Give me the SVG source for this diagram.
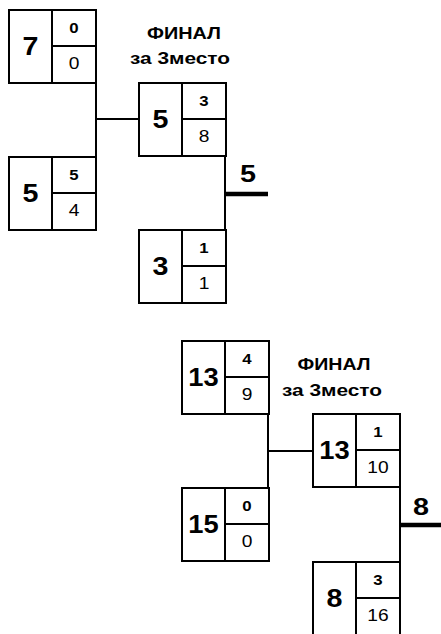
<svg xmlns="http://www.w3.org/2000/svg" width="441" height="634" viewBox="0 0 441 634">
<style>
.b{fill:#fff;stroke:#000;stroke-width:2}
.l{stroke:#000;stroke-width:2;fill:none}
.t{stroke:#000;stroke-width:4.5;fill:none}
text{font-family:"Liberation Sans",Arial,sans-serif;fill:#000;text-anchor:middle}
.big{font-size:26px;font-weight:bold}
.sb{font-size:14px;font-weight:bold}
.sn{font-size:16px}
.h{font-size:17px;font-weight:bold}
.w{font-size:24px;font-weight:bold}
</style>
<defs>
<g id="box">
<rect class="b" x="0" y="0" width="87" height="73"/>
<line class="l" x1="43" y1="0" x2="43" y2="73"/>
<line class="l" x1="43" y1="36" x2="87" y2="36"/>
</g>
<g id="boxtall">
<rect class="b" x="0" y="0" width="87" height="90"/>
<line class="l" x1="43" y1="0" x2="43" y2="90"/>
<line class="l" x1="43" y1="36" x2="87" y2="36"/>
</g>
</defs>
<g id="connectors">
<line class="l" x1="96" y1="10" x2="96" y2="230"/>
<line class="l" x1="96" y1="119" x2="139" y2="119"/>
<line class="l" x1="225" y1="83" x2="225" y2="304"/>
<line class="t" x1="225" y1="194" x2="268" y2="194"/>
<line class="l" x1="268" y1="341" x2="268" y2="562"/>
<line class="l" x1="268" y1="451" x2="313" y2="451"/>
<line class="l" x1="400" y1="414" x2="400" y2="634"/>
<line class="t" x1="400" y1="525" x2="441" y2="525"/>
</g>
<g id="title1">
<text class="h" x="184" y="39" textLength="74" lengthAdjust="spacingAndGlyphs">ФИНАЛ</text>
<text class="h" x="180" y="64" textLength="100" lengthAdjust="spacingAndGlyphs">за 3место</text>
</g>
<g id="title2">
<text class="h" x="334" y="370" textLength="73" lengthAdjust="spacingAndGlyphs">ФИНАЛ</text>
<text class="h" x="332" y="396" textLength="100" lengthAdjust="spacingAndGlyphs">за 3место</text>
</g>
<g id="n1" transform="translate(9,10)">
<use href="#box"/>
<text class="big" transform="translate(21.5,45) scale(1.1,1)">7</text>
<text class="sb" transform="translate(65,23) scale(1.2,1)">0</text>
<text class="sn" transform="translate(65,59) scale(1.2,1)">0</text>
</g>
<g id="n2" transform="translate(9,157)">
<use href="#box"/>
<text class="big" transform="translate(21.5,45) scale(1.1,1)">5</text>
<text class="sb" transform="translate(65,23) scale(1.2,1)">5</text>
<text class="sn" transform="translate(65,59) scale(1.2,1)">4</text>
</g>
<g id="n3" transform="translate(139,83)">
<use href="#box"/>
<text class="big" transform="translate(21.5,45) scale(1.1,1)">5</text>
<text class="sb" transform="translate(65,23) scale(1.2,1)">3</text>
<text class="sn" transform="translate(65,59) scale(1.2,1)">8</text>
</g>
<g id="n4" transform="translate(139,230)">
<use href="#box"/>
<text class="big" transform="translate(21.5,45) scale(1.1,1)">3</text>
<text class="sb" transform="translate(65,23) scale(1.2,1)">1</text>
<text class="sn" transform="translate(65,59) scale(1.2,1)">1</text>
</g>
<g id="w1"><text class="w" transform="translate(248,182) scale(1.2,1)">5</text></g>
<g id="n5" transform="translate(182,341)">
<use href="#box"/>
<text class="big" transform="translate(21.5,45) scale(1.05,1)">13</text>
<text class="sb" transform="translate(65,23) scale(1.2,1)">4</text>
<text class="sn" transform="translate(65,59) scale(1.2,1)">9</text>
</g>
<g id="n6" transform="translate(182,488)">
<use href="#box"/>
<text class="big" transform="translate(21.5,45) scale(1.05,1)">15</text>
<text class="sb" transform="translate(65,23) scale(1.2,1)">0</text>
<text class="sn" transform="translate(65,59) scale(1.2,1)">0</text>
</g>
<g id="n7" transform="translate(313,414)">
<use href="#box"/>
<text class="big" transform="translate(21.5,45) scale(1.05,1)">13</text>
<text class="sb" transform="translate(65,23) scale(1.2,1)">1</text>
<text class="sn" transform="translate(65,59) scale(1.2,1)">10</text>
</g>
<g id="n8" transform="translate(313,562)">
<use href="#boxtall"/>
<text class="big" transform="translate(21.5,45) scale(1.1,1)">8</text>
<text class="sb" transform="translate(65,23) scale(1.2,1)">3</text>
<text class="sn" transform="translate(65,59) scale(1.2,1)">16</text>
</g>
<g id="w2"><text class="w" transform="translate(421,515) scale(1.2,1)">8</text></g>
</svg>
